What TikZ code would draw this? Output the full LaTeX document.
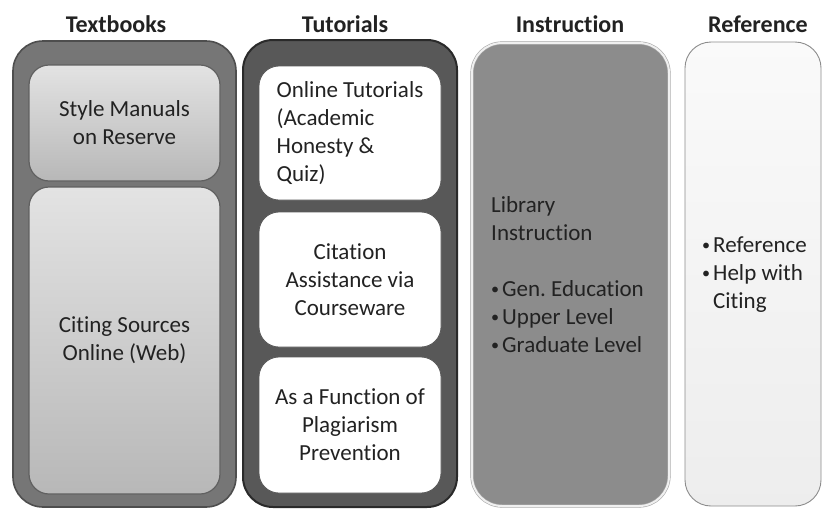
\documentclass[tikz,border=0pt]{standalone}
\usepackage{fontspec}
\setmainfont{Carlito}[Ligatures=NoCommon]
\definecolor{tbout}{HTML}{767676}
\definecolor{tbedge}{HTML}{4E4E4E}
\definecolor{tuout}{HTML}{585858}
\definecolor{tuedge}{HTML}{2A2A2A}
\definecolor{insfill}{HTML}{8C8C8C}
\definecolor{txt}{HTML}{222222}
\newcommand{\bul}{\makebox[11pt][l]{\raisebox{2pt}{\scalebox{0.7}{•}}}}
\frenchspacing
\begin{document}
\begin{tikzpicture}[x=1pt,y=-1pt,
  title/.style={font=\fontsize{24}{28}\selectfont\bfseries, text=txt, anchor=base, inner sep=0pt},
  body/.style={font=\fontsize{23}{28}\selectfont, text=txt, inner sep=0pt},
  box/.style={body, align=center},
  tbouter/.style={draw=tbedge, line width=1.6pt, fill=tbout, rounded corners=30pt, inner sep=0pt},
  tbinner/.style={box, draw=tbedge!90, line width=1.2pt, top color=black!11, bottom color=black!28, rounded corners=20pt},
  tuouter/.style={draw=tuedge, line width=2pt, fill=tuout, rounded corners=30pt, inner sep=0pt},
  tuinner/.style={box, draw=black!65, line width=0.8pt, fill=white, rounded corners=20pt},
  insbox/.style={body, align=left, draw=black!35, double=black!6, double distance=2pt, line width=0.6pt, fill=insfill, rounded corners=30pt},
  refbox/.style={body, align=left, draw=black!45, line width=0.9pt, top color=black!2, bottom color=black!7, rounded corners=26pt}]
\useasboundingbox[fill=white] (0,0) rectangle (822,509);

% titles
\node[title] (t1) at (116,32) {Textbooks};
\node[title] (t2) at (345,32) {Tutorials};
\node[title] (t3) at (570,32) {Instruction};
\node[title] (t4) at (758,32) {Reference};

% Textbooks
\node[tbouter, minimum width=223pt, minimum height=466pt] (tb) at (124.5,274) {};
\node[tbinner, minimum width=191pt, minimum height=116pt] (tb1) at (124.5,123) {Style Manuals\\on Reserve};
\node[tbinner, minimum width=191pt, minimum height=307pt] (tb2) at (124.5,340.5) {Citing Sources\\Online (Web)};

% Tutorials
\node[tuouter, minimum width=214pt, minimum height=467pt] (tu) at (350,273.5) {};
\node[tuinner, minimum width=182pt, minimum height=134pt, align=left] (tu1) at (350,133) {Online Tutorials\\(Academic\\Honesty \&\\Quiz)};
\node[tuinner, minimum width=182pt, minimum height=135pt] (tu2) at (350,279.5) {Citation\\Assistance via\\Courseware};
\node[tuinner, minimum width=182pt, minimum height=136pt] (tu3) at (350,425) {As a Function of\\Plagiarism\\Prevention};

% Instruction
\node[insbox, minimum width=197pt, minimum height=463pt] (ins) at (570.5,274.5) {};
\node[body, align=left, anchor=west] (inst) at (491,275) {Library\\Instruction\\[28pt]\bul Gen.\ Education\\\bul Upper Level\\\bul Graduate Level};

% Reference
\node[refbox, minimum width=136pt, minimum height=464pt] (ref) at (753,274) {};
\node[body, align=left, anchor=west] (reft) at (702,275) {\bul Reference\\\bul Help with\\\makebox[11pt][l]{}Citing};
\end{tikzpicture}
\end{document}
